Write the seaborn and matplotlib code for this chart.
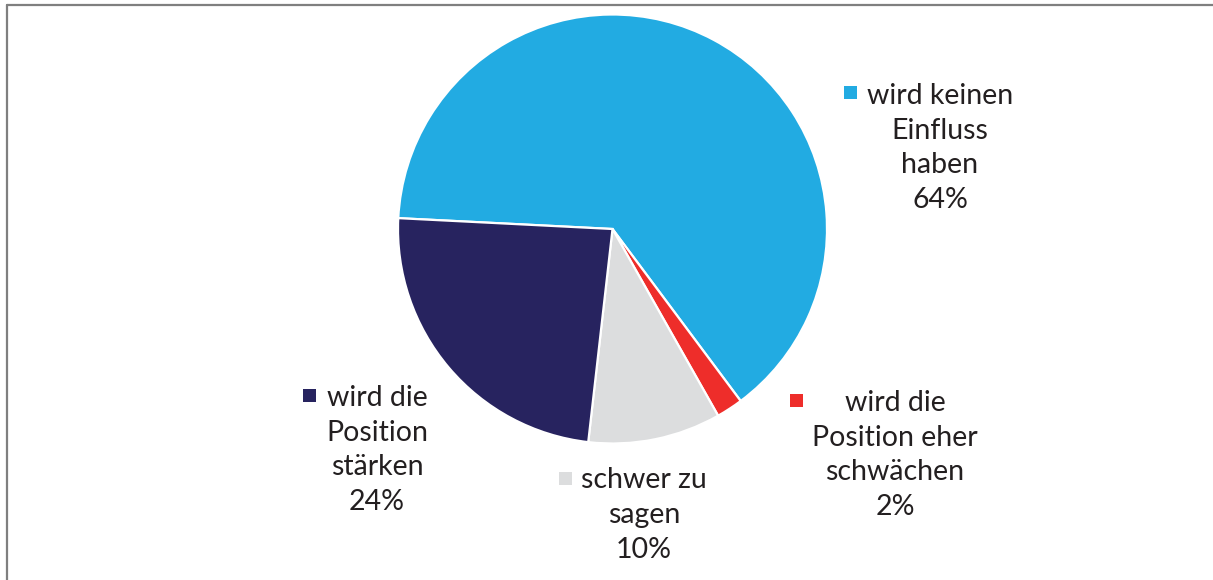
import matplotlib
matplotlib.use("Agg")
import matplotlib.pyplot as plt
from matplotlib.lines import Line2D
from matplotlib.patches import Rectangle
import seaborn as sns

# ---- data ----
categories = ["wird keinen\nEinfluss\nhaben",
              "wird die\nPosition eher\nschwächen",
              "schwer zu\nsagen",
              "wird die\nPosition\nstärken"]
values = [64, 2, 10, 24]
pct_labels = ["64%", "2%", "10%", "24%"]
colors = ["#22ABE2", "#EE2D2A", "#DCDDDE", "#27235F"]

sns.set_theme(style="white")
plt.rcParams['font.family'] = ['Lato', 'DejaVu Sans']

W, H = 1213, 580
fig = plt.figure(figsize=(W / 100, H / 100), dpi=100)
fig.patch.set_facecolor("white")

def fx(px):
    return px / W

def fy(py):
    return 1 - py / H

# pie axes placed by pixel geometry
cx, cy, r = 612.5, 229.0, 214.5
ax = fig.add_axes([fx(cx - r), fy(cy + r), 2 * r / W, 2 * r / H])
ax.pie(values, colors=colors, startangle=177.1, counterclock=False,
       radius=1.0, wedgeprops=dict(edgecolor="white", linewidth=1.6))
ax.set_xlim(-1, 1)
ax.set_ylim(-1, 1)
ax.set_aspect("equal")
ax.axis("off")

# labels: (text center x, block center y, marker center x, marker center y)
label_pos = [(940, 148, 850, 92),
             (895, 455, 796, 400),
             (644, 515, 565, 478),
             (377, 450, 309, 395)]
msize = 13
for cat, pct, col, (tx, ty, mx, my) in zip(categories, pct_labels, colors, label_pos):
    fig.text(fx(tx), fy(ty), cat + "\n" + pct, ha="center", va="center",
             multialignment="center", fontsize=20.5, color="#231F20",
             linespacing=1.41)
    fig.patches.append(Rectangle((fx(mx - msize / 2), fy(my + msize / 2)),
                                 msize / W, msize / H, transform=fig.transFigure,
                                 facecolor=col, edgecolor="none"))

# frame lines (left and top)
fig.lines.append(Line2D([fx(7), fx(7)], [fy(4.5), 0], transform=fig.transFigure,
                        color="#7F7F7F", linewidth=1.6))
fig.lines.append(Line2D([fx(7), 1], [fy(4.5), fy(4.5)], transform=fig.transFigure,
                        color="#7F7F7F", linewidth=1.6))

fig.savefig("out.png", dpi=100)
